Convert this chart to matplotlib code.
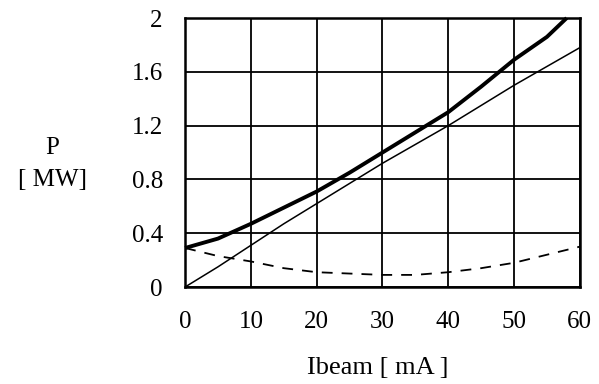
import matplotlib
matplotlib.use("Agg")
import matplotlib.pyplot as plt

# values (Ibeam in mA, P in MW)
ibeam = [0, 5, 10, 15, 20, 25, 30, 35, 40, 45, 50, 55, 58]
p_total = [0.29, 0.36, 0.47, 0.59, 0.71, 0.85, 1.00, 1.15, 1.30, 1.49, 1.69, 1.86, 2.00]
ibeam_b = [0, 5, 10, 15, 20, 25, 30, 35, 40, 45, 50, 55, 60]
p_beam = [0.0, 0.15, 0.31, 0.47, 0.62, 0.77, 0.92, 1.06, 1.20, 1.35, 1.50, 1.64, 1.78]
p_loss = [0.29, 0.23, 0.19, 0.14, 0.11, 0.10, 0.09, 0.09, 0.11, 0.14, 0.18, 0.24, 0.30]

xticks = [0, 10, 20, 30, 40, 50, 60]
yticks = [0, 0.4, 0.8, 1.2, 1.6, 2.0]
ytick_labels = ["0", "0.4", "0.8", "1.2", "1.6", "2"]

plt.rcParams["font.family"] = ["Liberation Serif", "DejaVu Serif"]

fig = plt.figure(figsize=(5.99, 3.84), dpi=100)
ax = fig.add_axes([0.309, 0.2526, 0.659, 0.7004])

ax.plot(ibeam, p_total, color="black", lw=2.8, solid_capstyle="butt", clip_on=False)
ax.plot(ibeam_b, p_beam, color="black", lw=1.1)
ax.plot(ibeam_b, p_loss, color="black", lw=1.3, ls=(0, (6, 5)))

ax.set_xlim(0, 60)
ax.set_ylim(0, 2)
ax.set_xticks(xticks)
ax.set_yticks(yticks)
ax.set_yticklabels(ytick_labels)
ax.grid(True, color="black", lw=1.3)
ax.set_axisbelow(True)
for s in ax.spines.values():
    s.set_linewidth(1.8)
ax.tick_params(length=0, labelsize=18)
ax.tick_params(axis="x", pad=17)
ax.tick_params(axis="y", pad=16)

fig.text(0.087, 0.615, "P", ha="center", va="center", fontsize=18)
fig.text(0.087, 0.531, "[ MW]", ha="center", va="center", fontsize=18)
fig.text(0.63, 0.042, "Ibeam [ mA ]", ha="center", va="center", fontsize=19)

fig.savefig("out.png", dpi=100)
